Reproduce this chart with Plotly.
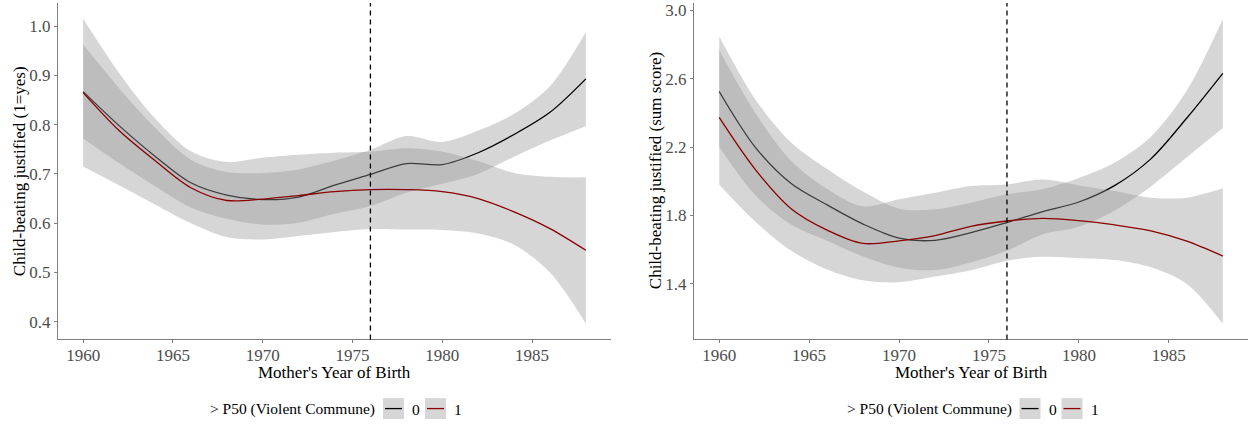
import plotly.graph_objects as go

# Mother's year of birth grid used for the smoothed fits
years = [1960, 1962, 1964, 1966, 1968, 1970, 1972, 1974,
         1976, 1978, 1980, 1982, 1984, 1986, 1988]

# Left panel: child-beating justified (1=yes)
left_fit_0 = [0.867, 0.798, 0.736, 0.682, 0.657, 0.648, 0.653, 0.677,
              0.699, 0.721, 0.719, 0.743, 0.780, 0.825, 0.893]
left_lo_0 = [0.772, 0.722, 0.675, 0.632, 0.609, 0.597, 0.601, 0.619,
             0.635, 0.662, 0.680, 0.700, 0.735, 0.768, 0.797]
left_hi_0 = [0.963, 0.874, 0.794, 0.729, 0.704, 0.702, 0.709, 0.727,
             0.749, 0.777, 0.765, 0.788, 0.822, 0.878, 0.988]
left_fit_1 = [0.865, 0.788, 0.727, 0.672, 0.646, 0.649, 0.656, 0.664,
              0.668, 0.668, 0.664, 0.650, 0.623, 0.589, 0.545]
left_lo_1 = [0.715, 0.677, 0.638, 0.600, 0.572, 0.567, 0.574, 0.582,
             0.588, 0.587, 0.586, 0.579, 0.556, 0.500, 0.396]
left_hi_1 = [1.015, 0.905, 0.813, 0.746, 0.724, 0.733, 0.739, 0.743,
             0.745, 0.752, 0.745, 0.726, 0.702, 0.694, 0.693]

# Right panel: child-beating justified (sum score)
right_fit_0 = [2.525, 2.200, 1.987, 1.862, 1.750, 1.668, 1.655, 1.700,
               1.759, 1.823, 1.879, 1.976, 2.131, 2.370, 2.631]
right_lo_0 = [2.202, 1.920, 1.747, 1.652, 1.560, 1.495, 1.481, 1.526,
              1.594, 1.691, 1.735, 1.830, 1.970, 2.140, 2.311]
right_hi_0 = [2.848, 2.480, 2.227, 2.072, 1.940, 1.840, 1.836, 1.875,
              1.924, 1.955, 2.020, 2.110, 2.260, 2.530, 2.948]
right_fit_1 = [2.373, 2.070, 1.840, 1.715, 1.637, 1.652, 1.683, 1.737,
               1.768, 1.783, 1.770, 1.745, 1.710, 1.650, 1.563]
right_lo_1 = [1.982, 1.765, 1.595, 1.485, 1.422, 1.410, 1.443, 1.480,
              1.536, 1.559, 1.551, 1.540, 1.497, 1.400, 1.167]
right_hi_1 = [2.767, 2.400, 2.120, 1.955, 1.854, 1.895, 1.933, 1.972,
              1.982, 2.010, 1.976, 1.943, 1.904, 1.904, 1.959]

x_ticks = [1960, 1965, 1970, 1975, 1980, 1985]
left_y_ticks = [0.4, 0.5, 0.6, 0.7, 0.8, 0.9, 1.0]
right_y_ticks = [1.4, 1.8, 2.2, 2.6, 3.0]
cutoff_year = 1976
group_labels = ["0", "1"]
legend_title = "> P50 (Violent Commune)"
x_title = "Mother's Year of Birth"
left_y_title = "Child-beating justified (1=yes)"
right_y_title = "Child-beating justified (sum score)"

W, H = 1252, 425
FONT = "Liberation Serif"
RIBBON = "rgba(153,153,153,0.4)"
LINE_COLORS = ["#000000", "#8B0000"]
AXIS_GREY = "#7F7F7F"
SMOOTH = 0.9


def px_x(p):
    return p / W


def px_y(p):
    return (H - p) / H


fig = go.Figure()

panels = [
    dict(xa="x", ya="y",
         groups=[(left_lo_0, left_hi_0, left_fit_0), (left_lo_1, left_hi_1, left_fit_1)]),
    dict(xa="x2", ya="y2",
         groups=[(right_lo_0, right_hi_0, right_fit_0), (right_lo_1, right_hi_1, right_fit_1)]),
]

for panel in panels:
    for g, (lo, hi, fit) in enumerate(panel["groups"]):
        fig.add_trace(go.Scatter(
            x=years, y=lo, xaxis=panel["xa"], yaxis=panel["ya"],
            mode="lines", line=dict(width=0, shape="spline", smoothing=SMOOTH),
            showlegend=False, hoverinfo="skip"))
        fig.add_trace(go.Scatter(
            x=years, y=hi, xaxis=panel["xa"], yaxis=panel["ya"],
            mode="lines", line=dict(width=0, shape="spline", smoothing=SMOOTH),
            fill="tonexty", fillcolor=RIBBON,
            showlegend=False, hoverinfo="skip"))
        fig.add_trace(go.Scatter(
            x=years, y=fit, xaxis=panel["xa"], yaxis=panel["ya"],
            mode="lines",
            line=dict(color=LINE_COLORS[g], width=1.3, shape="spline", smoothing=SMOOTH),
            showlegend=False, hoverinfo="skip"))

axis_common = dict(
    showline=True, linecolor=AXIS_GREY, linewidth=1,
    ticks="outside", ticklen=3, tickcolor=AXIS_GREY, tickwidth=1,
    showgrid=False, zeroline=False, ticklabeloverflow="allow",
    tickfont=dict(family=FONT, size=17, color="#4D4D4D"),
)

y_dom = [px_y(339), px_y(1)]
x_extra = dict(ticklabelstandoff=-3)

fig.update_layout(
    width=W, height=H,
    margin=dict(l=0, r=0, t=0, b=0),
    paper_bgcolor="white", plot_bgcolor="white",
    showlegend=False,
    xaxis=dict(domain=[px_x(58), px_x(611)], range=[1958.6, 1989.4],
               tickvals=x_ticks, anchor="y", **x_extra, **axis_common),
    yaxis=dict(domain=y_dom, range=[0.364, 1.047],
               tickvals=left_y_ticks, tickformat=".1f", anchor="x", **axis_common),
    xaxis2=dict(domain=[px_x(694), px_x(1248)], range=[1958.6, 1989.4],
                tickvals=x_ticks, anchor="y2", **x_extra, **axis_common),
    yaxis2=dict(domain=y_dom, range=[1.076, 3.042],
                tickvals=right_y_ticks, tickformat=".1f", anchor="x2", **axis_common),
)

shapes = []
annotations = []

panel_geo = [
    dict(xref="x", yref="y domain", center=334.5, ytitle_x=19, ytitle=left_y_title),
    dict(xref="x2", yref="y2 domain", center=971.0, ytitle_x=655, ytitle=right_y_title),
]

for geo in panel_geo:
    # vertical reference line at the cohort cutoff
    shapes.append(dict(type="line", xref=geo["xref"], yref=geo["yref"],
                       x0=cutoff_year, x1=cutoff_year, y0=0, y1=1,
                       line=dict(color="black", width=1.3, dash="5px,4px")))
    # axis titles
    annotations.append(dict(text=x_title, xref="paper", yref="paper",
                            x=px_x(geo["center"]), y=px_y(372),
                            xanchor="center", yanchor="middle", showarrow=False,
                            font=dict(family=FONT, size=17, color="black")))
    annotations.append(dict(text=geo["ytitle"], xref="paper", yref="paper",
                            x=px_x(geo["ytitle_x"]), y=px_y(170), textangle=-90,
                            xanchor="center", yanchor="middle", showarrow=False,
                            font=dict(family=FONT, size=17, color="black")))
    # legend drawn below each panel
    off = geo["center"] - 334.5
    annotations.append(dict(text=legend_title, xref="paper", yref="paper",
                            x=px_x(377 + off), y=px_y(409),
                            xanchor="right", yanchor="middle", showarrow=False,
                            font=dict(family=FONT, size=15.5, color="black")))
    for g, lab in enumerate(group_labels):
        bx = 383 + off + g * 42
        shapes.append(dict(type="rect", xref="paper", yref="paper",
                           x0=px_x(bx), x1=px_x(bx + 21), y0=px_y(419), y1=px_y(398),
                           fillcolor="#D6D6D6", line=dict(width=0), layer="above"))
        shapes.append(dict(type="line", xref="paper", yref="paper",
                           x0=px_x(bx + 2), x1=px_x(bx + 19), y0=px_y(408.5), y1=px_y(408.5),
                           line=dict(color=LINE_COLORS[g], width=1.3), layer="above"))
        annotations.append(dict(text=lab, xref="paper", yref="paper",
                                x=px_x(bx + 27), y=px_y(409),
                                xanchor="left", yanchor="middle", showarrow=False,
                                font=dict(family=FONT, size=15.5, color="black")))

fig.update_layout(shapes=shapes, annotations=annotations)

fig.write_html("out.html")
